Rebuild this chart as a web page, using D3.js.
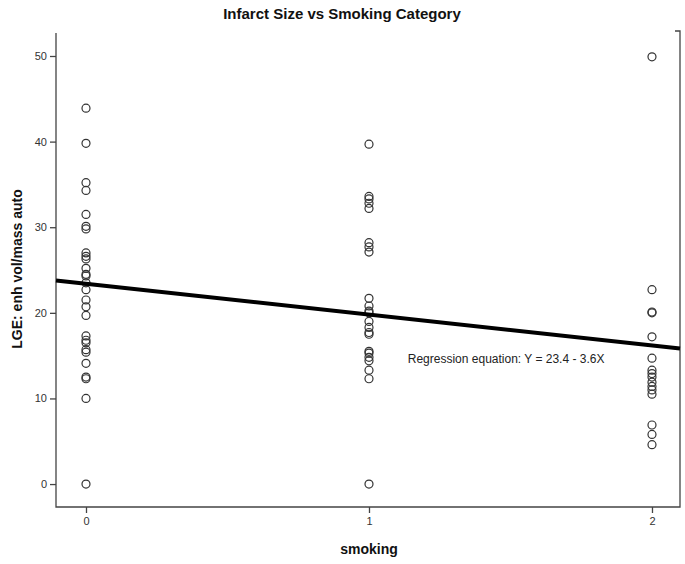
<!DOCTYPE html>
<html>
<head>
<meta charset="utf-8">
<script src="https://cdn.jsdelivr.net/npm/d3@7"></script>
<style>
  body { margin: 0; background: #fff; }
  text { font-family: "Liberation Sans", Arial, sans-serif; }
</style>
</head>
<body>
<div id="chart"></div>
<script>
// Data
let smoking0 = [43.9, 39.8, 35.2, 34.3, 31.5, 30.1, 29.8, 27.0, 26.6, 26.3, 25.2, 24.5, 24.3, 23.5,
    22.7, 21.5, 20.7, 19.7, 17.3, 16.8, 16.5, 15.7, 15.4, 14.1, 12.5, 12.3, 10.0, 0];
let smoking1 = [39.7, 33.6, 33.3, 32.8, 32.2, 28.2, 27.7, 27.1, 21.7, 20.8, 20.2, 20.0, 19.0, 18.3,
    17.7, 17.5, 15.5, 15.3, 14.8, 14.4, 13.3, 12.3, 0];
let smoking2 = [49.9, 22.7, 20.1, 20.0, 17.2, 14.7, 13.3, 12.9, 12.5, 11.9, 11.4, 11.0, 10.5, 6.9, 5.8, 4.6];
let xTicks = [0, 1, 2];
let yTicks = [0, 10, 20, 30, 40, 50];
let intercept = 23.4, slope = -3.6;

let data = [];
[smoking0, smoking1, smoking2].forEach(function (vals, i) {
    vals.forEach(function (v) { data.push({ x: i, y: v }); });
});

// Set dimensions and margins
let margin = { top: 31, right: 5, bottom: 57, left: 56 },
    width = 685 - margin.left - margin.right,
    height = 564 - margin.top - margin.bottom;

// Scales
let x = d3.scaleLinear().domain([-0.106, 2.099]).range([0, width]);
let y = d3.scaleLinear().domain([-2.68, 52.92]).range([height, 0]);

let svg = d3.select('#chart')
    .append('svg')
    .attr('width', 685)
    .attr('height', 564);

svg.append('text')
    .attr('x', 342)
    .attr('y', 19)
    .attr('text-anchor', 'middle')
    .style('font-size', '15px')
    .style('font-weight', 'bold')
    .attr('fill', '#111')
    .text('Infarct Size vs Smoking Category');

let g = svg.append('g')
    .attr('transform', 'translate(' + margin.left + ',' + margin.top + ')');

// Frame: left, bottom, right (open top)
g.append('path')
    .attr('d', 'M0,2V' + height + 'H' + width + 'V0H' + (width - 5))
    .attr('fill', 'none')
    .attr('stroke', '#444')
    .attr('stroke-width', 1.3);

// Axes
let xAxis = g.append('g')
    .attr('transform', 'translate(0,' + height + ')')
    .call(d3.axisBottom(x).tickValues(xTicks).tickFormat(d3.format('d')).tickSize(6).tickPadding(4));
let yAxis = g.append('g')
    .call(d3.axisLeft(y).tickValues(yTicks).tickSize(6).tickPadding(3));

[xAxis, yAxis].forEach(function (ax) {
    ax.select('.domain').remove();
    ax.selectAll('line').attr('stroke', '#444').attr('stroke-width', 1.3);
    ax.selectAll('text').style('font-size', '11px').attr('fill', '#333');
});

// Points
g.selectAll('circle')
    .data(data)
    .enter().append('circle')
    .attr('cx', function (d) { return x(d.x); })
    .attr('cy', function (d) { return y(d.y); })
    .attr('r', 4)
    .attr('fill', 'none')
    .attr('stroke', '#333')
    .attr('stroke-width', 1.2);

// Regression line
let xd = x.domain();
let fit = d3.line()
    .x(function (d) { return x(d); })
    .y(function (d) { return y(intercept + slope * d); });
g.append('path')
    .datum(xd)
    .attr('d', fit)
    .attr('stroke', '#000')
    .attr('stroke-width', 4)
    .attr('fill', 'none');

g.append('text')
    .attr('x', x(1.137))
    .attr('y', y(14.1))
    .style('font-size', '12px')
    .attr('fill', '#222')
    .text('Regression equation: Y = 23.4 - 3.6X');

// Axis titles
svg.append('text')
    .attr('x', margin.left + x(1))
    .attr('y', 554)
    .attr('text-anchor', 'middle')
    .style('font-size', '14px')
    .style('font-weight', 'bold')
    .attr('fill', '#111')
    .text('smoking');

svg.append('text')
    .attr('transform', 'translate(22,' + (margin.top + height / 2) + ') rotate(-90)')
    .attr('text-anchor', 'middle')
    .style('font-size', '14px')
    .style('font-weight', 'bold')
    .attr('fill', '#111')
    .text('LGE: enh vol/mass auto');
</script>
</body>
</html>
